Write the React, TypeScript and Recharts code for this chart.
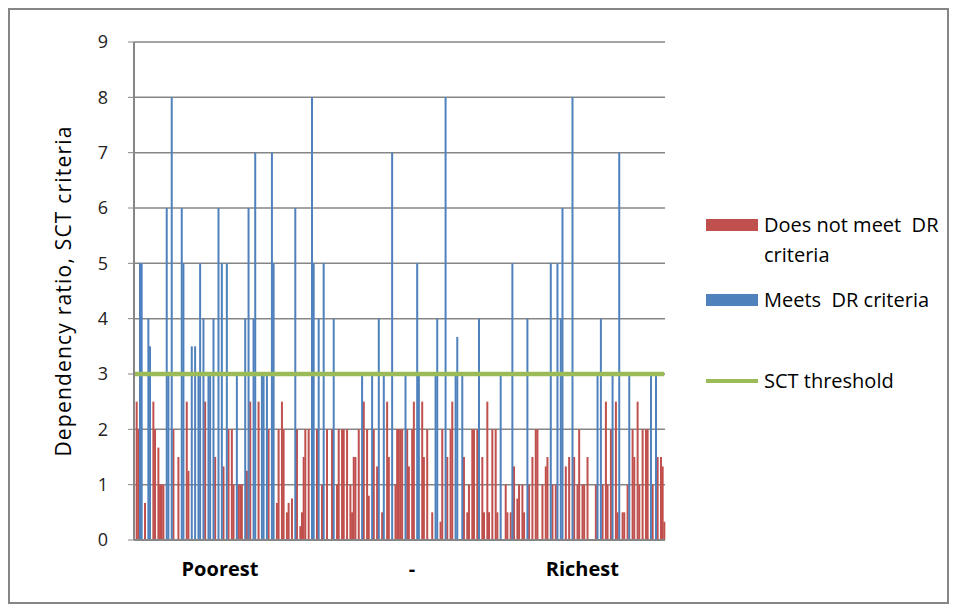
import React from 'react';
import {
  Bar,
  CartesianGrid,
  ComposedChart,
  Label,
  Legend,
  Line,
  XAxis,
  YAxis,
} from 'recharts';

// one value per household, poorest on the left, richest on the right
const dependencyRatio: number[] = [
  0, 2.5, 2, 5, 5, 0, 0.67, 0, 4, 3.5,
  0, 2.5, 2, 0, 1.67, 1, 1, 1, 0, 6,
  3, 0, 8, 2, 0, 0, 1.5, 0, 6, 5,
  0, 2.5, 1.25, 0, 3.5, 0, 3.5, 0, 3, 5,
  0, 4, 2.5, 0, 3, 3, 0, 4, 1.5, 0,
  6, 0, 5, 1.33, 0, 5, 2, 0, 2, 1,
  0, 3, 1, 1, 1, 0, 4, 1.25, 6, 2.5,
  0, 4, 7, 0, 2.5, 0, 3, 3, 0, 3,
  2, 0, 7, 5, 0, 0.67, 2, 0, 2.5, 2,
  0, 0.5, 0.67, 0, 0.75, 0, 6, 2, 0, 0.25,
  0.5, 1.5, 2, 0, 2, 0, 8, 5, 0, 2,
  4, 0, 1, 5, 0, 2, 0, 0, 2, 4,
  0, 1, 2, 0, 2, 2, 0, 2, 0, 1,
  0.5, 1.5, 1.5, 0, 2, 0, 3, 2.5, 0, 2,
  0.8, 0, 3, 2, 0, 1.33, 4, 0, 0.5, 3,
  0, 2.5, 1.5, 0, 7, 0, 1, 2, 2, 2,
  2, 0, 3, 2, 1.33, 0, 2, 2.5, 0, 5,
  3, 0, 2.5, 1.5, 0, 2, 0, 0, 0.5, 0,
  3, 4, 0, 0.33, 2, 0, 8, 1.5, 0, 2,
  2.5, 0, 3, 3.67, 0, 0, 3, 1.5, 0, 0.5,
  1, 0, 2, 2, 0, 2, 4, 0, 1.5, 0.5,
  0, 2.5, 0.5, 0, 2, 0, 2, 0.5, 0, 3,
  0, 0, 1, 0.5, 0, 0.5, 5, 1.33, 0, 0.75,
  1, 0, 1, 0.5, 0, 4, 1, 0, 1.5, 0,
  2, 2, 0, 0, 1, 0, 1.33, 1.5, 0, 5,
  1, 0, 1, 5, 0, 4, 6, 0, 1.33, 0,
  1.5, 0, 8, 1.5, 0, 1, 2, 0, 1, 1,
  0, 1.5, 0, 0, 0, 0, 1, 3, 0, 4,
  1, 0, 2.5, 1, 0, 2, 3, 0, 2.5, 0.5,
  7, 0, 0.5, 0.5, 0, 1, 3, 0, 2, 1.5,
  0, 2.5, 1, 0, 2, 0, 2, 2, 0, 3,
  1, 0, 3, 1.5, 0, 1.5, 1.33, 0.33,
];

const sctThreshold = 3;
const yTicks = [0, 1, 2, 3, 4, 5, 6, 7, 8, 9];
const xTickIndexes = [51, 166, 268];
const xTickLabels = ['Poorest', '-', 'Richest'];
const seriesNames = ['Does not meet  DR criteria', 'Meets  DR criteria', 'SCT threshold'];
const legendTops = [2, 77, 158];

const FONT = '"Open Sans", sans-serif';
const GRID = '#868686';

const data = dependencyRatio.map((v, i) => ({
  idx: i,
  notMeet: v < sctThreshold ? v : 0,
  meets: v >= sctThreshold ? v : 0,
  sct: sctThreshold,
}));

const LegendBox = (props: any) => {
  const items = props.payload || [];
  return (
    <div
      style={{
        position: 'relative',
        width: 240,
        height: 190,
        fontFamily: FONT,
        fontSize: 20,
        color: '#000',
        textAlign: 'left',
      }}
    >
      {items.map((it: any, i: number) => (
        <div key={it.value} style={{ position: 'absolute', left: 0, top: legendTops[i], width: 240 }}>
          {it.type === 'line' ? (
            <div style={{ position: 'absolute', left: 0, top: 13, width: 52, height: 4, background: it.color }} />
          ) : (
            <div style={{ position: 'absolute', left: 0, top: 9, width: 52, height: 12, background: it.color }} />
          )}
          <div style={{ marginLeft: 58, width: 190, lineHeight: '30px', whiteSpace: 'pre-wrap' }}>{it.value}</div>
        </div>
      ))}
    </div>
  );
};

const YTitle = (props: any) => {
  const vb = props.viewBox;
  const cx = 53;
  const cy = vb.y + vb.height / 2;
  return (
    <text
      x={cx}
      y={cy}
      transform={`rotate(-90 ${cx} ${cy})`}
      textAnchor="middle"
      dominantBaseline="central"
      fontFamily={FONT}
      fontSize={21}
      letterSpacing={1.2}
      fill="#000"
    >
      Dependency ratio, SCT criteria
    </text>
  );
};

const App: React.FC = () => {
  return (
    <div style={{ width: 937, height: 592, border: `2px solid ${GRID}`, background: '#fff' }}>
      <ComposedChart
        width={937}
        height={592}
        data={data}
        margin={{ top: 32, right: 282, bottom: 32, left: 0 }}
        barCategoryGap={0}
      >
        <CartesianGrid vertical={false} stroke={GRID} strokeWidth={1.5} />
        <XAxis
          dataKey="idx"
          ticks={xTickIndexes}
          interval={0}
          tickFormatter={(v) => xTickLabels[xTickIndexes.indexOf(v)] ?? ''}
          tickLine={false}
          tickSize={0}
          tickMargin={22}
          axisLine={{ stroke: GRID, strokeWidth: 2 }}
          tick={{ fontFamily: FONT, fontSize: 20, fontWeight: 700, fill: '#000' }}
        />
        <YAxis
          width={124}
          domain={[0, 9]}
          ticks={yTicks}
          interval={0}
          tickSize={6}
          tickMargin={20}
          axisLine={{ stroke: GRID, strokeWidth: 2 }}
          tickLine={{ stroke: GRID }}
          tick={{ fontFamily: FONT, fontSize: 18, fill: '#222' }}
        >
          <Label content={<YTitle />} />
        </YAxis>
        <Legend
          layout="vertical"
          align="center"
          verticalAlign="middle"
          wrapperStyle={{ left: 696, top: 198, width: 240 }}
          content={<LegendBox />}
        />
        <Bar dataKey="notMeet" name={seriesNames[0]} stackId="dr" fill="#C0504D" isAnimationActive={false} />
        <Bar dataKey="meets" name={seriesNames[1]} stackId="dr" fill="#4F81BD" isAnimationActive={false} />
        <Line
          dataKey="sct"
          name={seriesNames[2]}
          type="linear"
          stroke="#9BBB59"
          strokeWidth={4.5}
          dot={false}
          activeDot={false}
          legendType="line"
          isAnimationActive={false}
        />
      </ComposedChart>
    </div>
  );
};

export default App;
